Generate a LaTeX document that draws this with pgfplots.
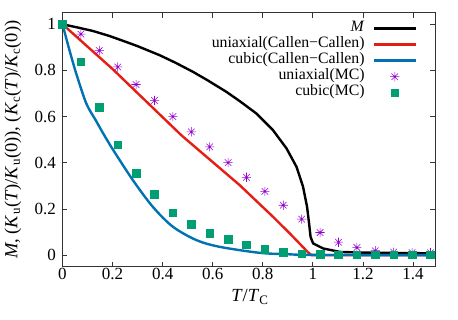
\documentclass[border=0pt]{standalone}
\usepackage{fontspec}
\setmainfont{Liberation Serif}
\usepackage{pgfplots}
\pgfplotsset{compat=1.18}

\definecolor{gpred}{RGB}{228,30,20}
\definecolor{gpblue}{RGB}{0,114,178}
\definecolor{gpgreen}{RGB}{0,158,115}
\definecolor{gppurple}{RGB}{148,0,211}

% gnuplot style star: + and x on top of each other
\pgfdeclareplotmark{gpstar}{%
  \pgfpathmoveto{\pgfqpoint{-\pgfplotmarksize}{0pt}}%
  \pgfpathlineto{\pgfqpoint{\pgfplotmarksize}{0pt}}%
  \pgfpathmoveto{\pgfqpoint{0pt}{-\pgfplotmarksize}}%
  \pgfpathlineto{\pgfqpoint{0pt}{\pgfplotmarksize}}%
  \pgfpathmoveto{\pgfqpoint{-.707\pgfplotmarksize}{-.707\pgfplotmarksize}}%
  \pgfpathlineto{\pgfqpoint{.707\pgfplotmarksize}{.707\pgfplotmarksize}}%
  \pgfpathmoveto{\pgfqpoint{-.707\pgfplotmarksize}{.707\pgfplotmarksize}}%
  \pgfpathlineto{\pgfqpoint{.707\pgfplotmarksize}{-.707\pgfplotmarksize}}%
  \pgfusepathqstroke}

\begin{document}
\begin{tikzpicture}
\useasboundingbox (-62.5pt,-53.3pt) rectangle (395.5pt,266.7pt);
\begin{axis}[
  scale only axis,
  width=372.5pt, height=254pt,
  xmin=0, xmax=1.488,
  ymin=-0.05, ymax=1.05,
  xtick={0,0.2,0.4,0.6,0.8,1,1.2,1.4},
  ytick={0,0.2,0.4,0.6,0.8,1},
  tick align=inside,
  major tick length=5pt,
  axis line style={black!80, line width=0.8pt},
  every tick/.style={black!80, line width=0.8pt},
  /pgf/number format/assume math mode=true,
  tick label style={font=\fontsize{17}{20}\selectfont},
  yticklabel style={xshift=-3pt},
  xticklabel style={yshift=2pt},
  label style={font=\fontsize{18.5}{22}\selectfont},
  xlabel={\textit{T}/\textit{T}\textsubscript{C}},
  xlabel style={at={(axis description cs:0.503,-0.119)}, anchor=center},
  ylabel={\textit{M}, (\textit{K}\textsubscript{u}(\textit{T})/\textit{K}\textsubscript{u}(0)), (\textit{K}\textsubscript{c}(\textit{T})/\textit{K}\textsubscript{c}(0))},
  ylabel style={at={(axis description cs:-0.133,0.5)}, anchor=center},
  clip=false,
  legend plot pos=right,
  legend cell align=right,
  legend image code/.code={%
    \draw[mark repeat=2,mark phase=2,#1] plot coordinates {(0pt,0pt)(21pt,0pt)(42pt,0pt)};},
  legend style={at={(axis description cs:1,1)}, anchor=north east,
    xshift=-18pt, yshift=-8pt, draw=none, fill=none,
    inner sep=0pt, outer sep=0pt, row sep=0pt, column sep=8pt,
    nodes={inner sep=0pt, text height=11pt, text depth=5pt},
    font=\fontsize{15.8}{18}\selectfont},
]

\addplot[black, line width=2.4pt] coordinates {
(0,1)(0.06,0.986)(0.121,0.971)(0.188,0.949)(0.255,0.923)(0.3,0.905)(0.388,0.866)
(0.45,0.834)(0.521,0.794)(0.58,0.757)(0.655,0.707)(0.708,0.667)(0.775,0.613)(0.841,0.541)
(0.895,0.462)(0.935,0.382)(0.961,0.296)(0.977,0.209)(0.985,0.137)
(0.991,0.079)(1.001,0.051)(1.041,0.029)(1.108,0.014)(1.2,0.011)
(1.35,0.009)(1.488,0.008)
};
\addlegendentry{\textit{M}}

\addplot[gpred, line width=2.4pt] coordinates {
(0,1)(0.2,0.806)(0.475,0.519)(0.708,0.303)(0.841,0.166)(0.908,0.094)
(0.981,0.012)(0.995,0)(1.488,0)
};
\addlegendentry{uniaxial(Callen−Callen)}

\addplot[gpblue, line width=2.4pt, smooth, tension=0.5] coordinates {
(0,1)(0.028,0.887)(0.055,0.786)(0.095,0.657)(0.135,0.58)(0.161,0.53)
(0.201,0.458)(0.281,0.325)(0.361,0.209)(0.441,0.123)(0.535,0.065)
(0.628,0.036)(0.788,0.01)(0.9,0.004)(1.0,0.001)(1.488,0)
};
\addlegendentry{cubic(Callen−Callen)}

\addplot[only marks, mark=gpstar, mark size=4.6pt, gppurple, line width=0.55pt] coordinates {
(0,1)(0.0735,0.957)(0.147,0.886)(0.2205,0.815)(0.294,0.739)(0.3675,0.670)
(0.441,0.600)(0.5145,0.534)(0.588,0.469)(0.6615,0.401)(0.735,0.337)
(0.8085,0.276)(0.882,0.216)(0.9555,0.156)(1.029,0.098)(1.1025,0.056)
(1.176,0.033)(1.2495,0.019)(1.323,0.013)(1.3965,0.011)(1.47,0.010)
};
\addlegendentry{uniaxial(MC)}

\addplot[only marks, mark=square*, mark size=3.8pt, gpgreen, fill=gpgreen] coordinates {
(0,1)(0.0735,0.837)(0.147,0.641)(0.2205,0.479)(0.294,0.356)(0.3675,0.265)
(0.441,0.183)(0.5145,0.133)(0.588,0.094)(0.6615,0.069)(0.735,0.046)
(0.8085,0.025)(0.882,0.014)(0.9555,0.007)(1.029,0.003)(1.1025,0.002)
(1.176,0.002)(1.2495,0.002)(1.323,0.002)(1.3965,0.002)(1.47,0.002)
};
\addlegendentry{cubic(MC)}

\end{axis}
\end{tikzpicture}
\end{document}
